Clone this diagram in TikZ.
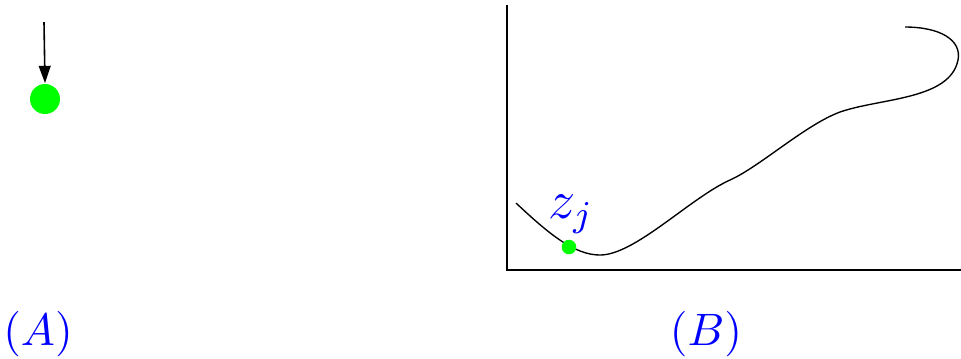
\documentclass[tikz,border=0pt]{standalone}
\usetikzlibrary{arrows.meta}

\tikzset{
  dotnode/.style={circle,fill=green,inner sep=0pt},
  tagnode/.style={text=blue,inner sep=0pt}
}

\begin{document}
\begin{tikzpicture}[x=0.22pt,y=-0.22pt]
\useasboundingbox (0,0) rectangle (961,358);
% panel A
\begin{scope}
\coordinate (start) at (44,22);
\node[dotnode,minimum size=6.6pt] (dotA) at (45,99) {};
\draw[line width=0.35pt,-{Triangle[length=3.8pt,width=2.6pt]}] (start) -- (dotA.north);
\node[tagnode] (tagA) at (38,334) {$(A)$};
\end{scope}
% panel B
\begin{scope}
\coordinate (origin) at (507,270);
\coordinate (ytop) at (507,5);
\coordinate (xend) at (961,270);
\draw[line width=0.3pt] (ytop) -- (origin) -- (xend);
\draw[line width=0.3pt] (516,203) .. controls (550,235) and (575,255) .. (600,255)
  .. controls (635,255) and (690,198) .. (730,180)
  .. controls (760,166.5) and (805,125) .. (840,112)
  .. controls (880,98) and (950,100) .. (958,60)
  .. controls (962,40) and (940,27) .. (905,27);
\node[dotnode,minimum size=3.2pt] (dotB) at (569,247) {};
\node[tagnode,font=\large] (zj) at (571,214) {$z_j$};
\node[tagnode] (tagB) at (706,334) {$(B)$};
\end{scope}
\end{tikzpicture}
\end{document}
